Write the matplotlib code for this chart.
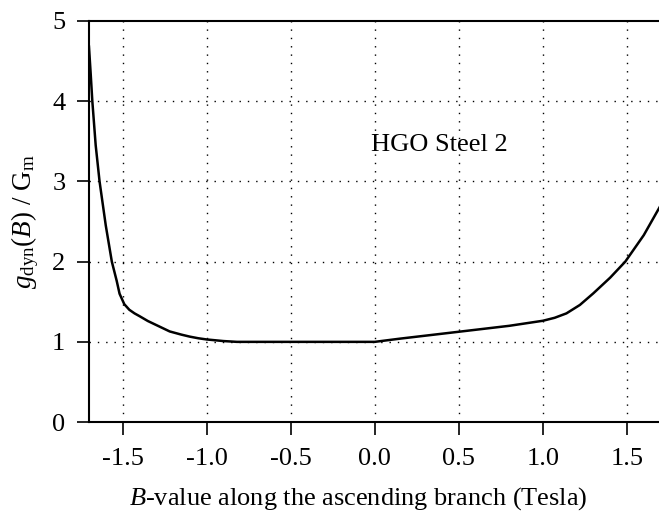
import numpy as np
import matplotlib as mpl
mpl.use("Agg")
import matplotlib.pyplot as plt

# curve (B in Tesla, normalised g_dyn)
b_vals = [-1.70, -1.69, -1.68, -1.66, -1.637, -1.60, -1.564, -1.535, -1.518, -1.49, -1.46,
          -1.429, -1.399, -1.35, -1.30, -1.25, -1.22, -1.15, -1.10, -1.05, -1.0, -0.95,
          -0.90, -0.82, -0.5, 0.0, 0.15, 0.5, 0.8, 1.0, 1.07, 1.14, 1.22, 1.30, 1.40,
          1.49, 1.60, 1.70]
g_vals = [4.68, 4.35, 4.0, 3.45, 3.0, 2.45, 2.0, 1.76, 1.60, 1.47, 1.40,
          1.355, 1.32, 1.26, 1.21, 1.16, 1.13, 1.09, 1.065, 1.045, 1.03, 1.02,
          1.01, 1.0, 1.0, 1.0, 1.04, 1.126, 1.20, 1.263, 1.30, 1.355, 1.46, 1.605, 1.80,
          2.0, 2.33, 2.70]
x_ticks = [-1.5, -1.0, -0.5, 0.0, 0.5, 1.0, 1.5]
y_ticks = [0, 1, 2, 3, 4, 5]

plt.rcParams['font.family'] = ['Liberation Serif', 'DejaVu Serif']
plt.rcParams['mathtext.fontset'] = 'custom'
plt.rcParams['mathtext.rm'] = 'Liberation Serif'
plt.rcParams['mathtext.it'] = 'Liberation Serif:italic'

fig = plt.figure(figsize=(6.59, 5.11), dpi=100)
ax = fig.add_axes([0.135, 0.174, 0.8674, 0.785])

ax.plot(b_vals, g_vals, color='black', lw=1.8)

ax.set_xlim(-1.7, 1.7)
ax.set_ylim(0, 5)
ax.set_xticks(x_ticks)
ax.set_xticklabels([f"{v:.1f}" for v in x_ticks])
ax.set_yticks(y_ticks)

for v in x_ticks:
    ax.axvline(v, color='black', lw=1.0, ls=(0, (1, 5)), zorder=0)
for v in y_ticks[1:-1]:
    ax.axhline(v, color='black', lw=1.0, ls=(0, (1, 5)), zorder=0)

for s in ['left', 'bottom', 'top']:
    ax.spines[s].set_linewidth(1.5)
ax.spines['right'].set_visible(False)
ax.tick_params(direction='out', length=9, width=1.2, labelsize=19)
ax.tick_params(axis='x', pad=10)
ax.tick_params(axis='y', pad=8)

ax.text(-0.02, 3.45, "HGO Steel 2", fontsize=19, va='center', ha='left')

ax.set_xlabel(r"$B$-value along the ascending branch (Tesla)", fontsize=19)
ax.xaxis.set_label_coords(0.472, -0.157)
ax.set_ylabel(r"$g_{\rm dyn}(B)$ / G$_{\rm m}$", fontsize=19.5)
ax.yaxis.set_label_coords(-0.084, 0.5)

fig.savefig("out.png", dpi=100)
